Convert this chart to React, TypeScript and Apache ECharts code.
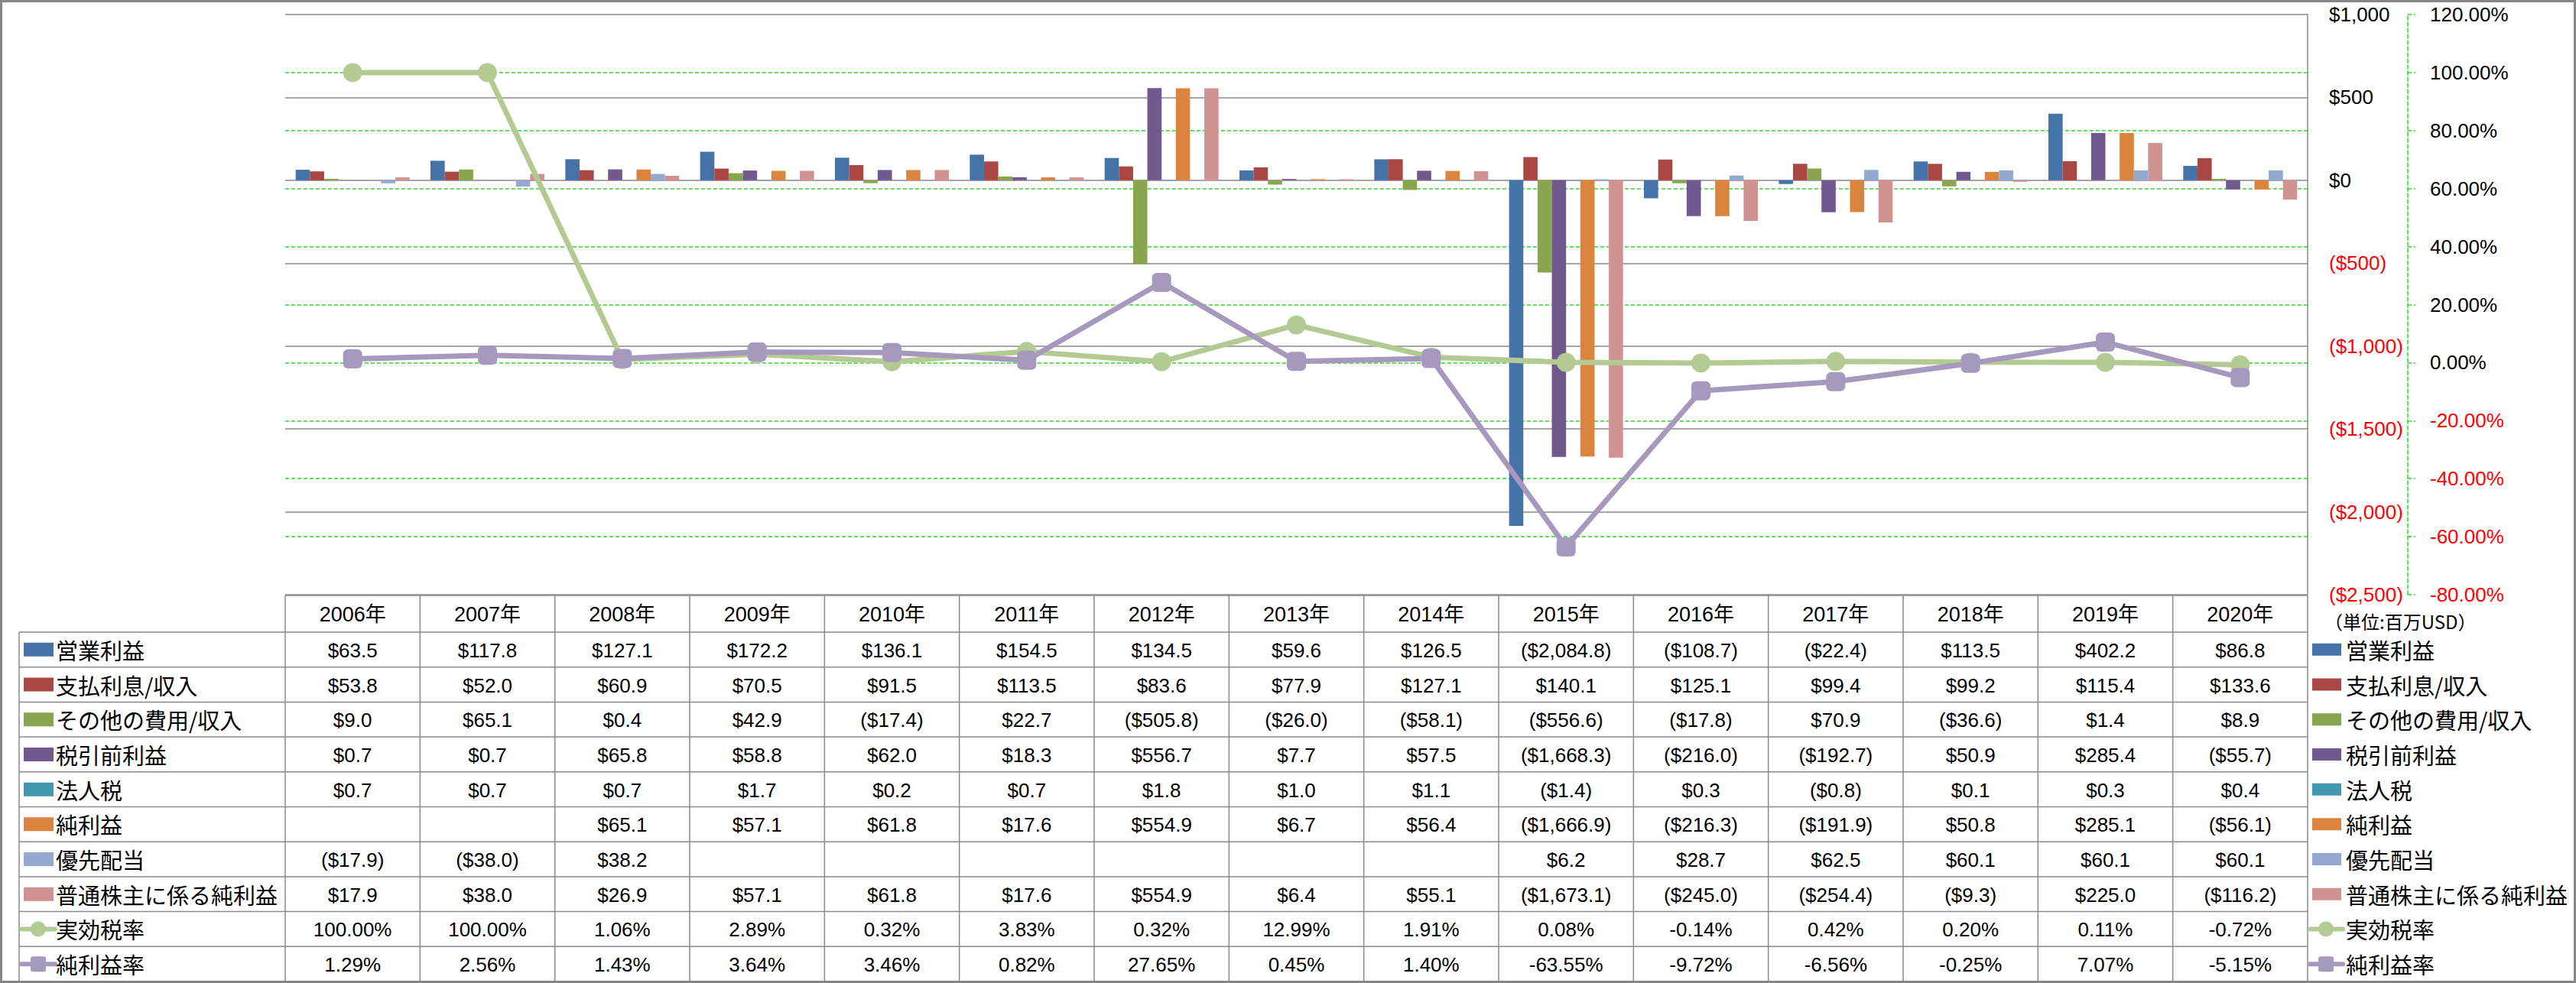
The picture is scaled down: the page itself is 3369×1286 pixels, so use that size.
import React, { useEffect, useRef } from "react";
import * as echarts from "echarts";

const years = ["2006年","2007年","2008年","2009年","2010年","2011年","2012年","2013年","2014年","2015年","2016年","2017年","2018年","2019年","2020年"];

const opIncome = [63.5,117.8,127.1,172.2,136.1,154.5,134.5,59.6,126.5,-2084.8,-108.7,-22.4,113.5,402.2,86.8];
const interest = [53.8,52.0,60.9,70.5,91.5,113.5,83.6,77.9,127.1,140.1,125.1,99.4,99.2,115.4,133.6];
const otherExp = [9.0,65.1,0.4,42.9,-17.4,22.7,-505.8,-26.0,-58.1,-556.6,-17.8,70.9,-36.6,1.4,8.9];
const preTax = [0.7,0.7,65.8,58.8,62.0,18.3,556.7,7.7,57.5,-1668.3,-216.0,-192.7,50.9,285.4,-55.7];
const corpTax = [0.7,0.7,0.7,1.7,0.2,0.7,1.8,1.0,1.1,-1.4,0.3,-0.8,0.1,0.3,0.4];
const netIncome = [null,null,65.1,57.1,61.8,17.6,554.9,6.7,56.4,-1666.9,-216.3,-191.9,50.8,285.1,-56.1];
const prefDiv = [-17.9,-38.0,38.2,null,null,null,null,null,null,6.2,28.7,62.5,60.1,60.1,60.1];
const commonNet = [17.9,38.0,26.9,57.1,61.8,17.6,554.9,6.4,55.1,-1673.1,-245.0,-254.4,-9.3,225.0,-116.2];
const taxRate = [100.00,100.00,1.06,2.89,0.32,3.83,0.32,12.99,1.91,0.08,-0.14,0.42,0.20,0.11,-0.72];
const netMargin = [1.29,2.56,1.43,3.64,3.46,0.82,27.65,0.45,1.40,-63.55,-9.72,-6.56,-0.25,7.07,-5.15];

const barNames = ["営業利益","支払利息/収入","その他の費用/収入","税引前利益","法人税","純利益","優先配当","普通株主に係る純利益"];
const barData = [opIncome, interest, otherExp, preTax, corpTax, netIncome, prefDiv, commonNet];
const barColors = ["#4572A7","#AA4643","#89A54E","#71588F","#4198AF","#DB843D","#93A9CF","#D19392"];
const lineNames = ["実効税率","純利益率"];
const lineData = [taxRate, netMargin];
const lineColors = ["#B3CB93","#A699BD"];

const moneyTicks = { min: -2500, max: 1000, interval: 500 };
const pctTicks = { min: -80, max: 120, interval: 20 };
const unitLabel = "（単位:百万USD）";

const W = 3369, H = 1286;
const GL = 373, GR = 3018, GT = 19, GB = 778;
const COLW = (GR - GL) / 15;
const HDR_B = 827;
const TBL_B = 1284;
const ROW_H = (TBL_B - HDR_B) / 10;
const NUM_FONT = "'Liberation Sans', 'Noto Sans CJK JP', sans-serif";
const JP_FONT = "'Noto Sans CJK JP', sans-serif";
const LINE_C = "#8a8a8a";
const GREEN_DASH = "#19e619";

function fmtMoney(v: number | null): string {
  if (v === null || v === undefined) return "";
  const s = Math.abs(v).toLocaleString("en-US", { minimumFractionDigits: 1, maximumFractionDigits: 1 });
  return v < 0 ? `($${s})` : `$${s}`;
}
function fmtPct(v: number): string {
  return v.toFixed(2) + "%";
}

function txt(x: number, y: number, text: string, size: number, family: string, align = "center", fill = "#000") {
  return {
    type: "text",
    x, y,
    silent: true,
    z: 50,
    style: {
      text, fill, fontSize: size, fontFamily: family,
      align, textAlign: align, verticalAlign: "middle", textVerticalAlign: "middle",
    },
  };
}
function ln(x1: number, y1: number, x2: number, y2: number, color = LINE_C, w = 1.5) {
  return { type: "line", silent: true, z: 40, shape: { x1, y1, x2, y2 }, style: { stroke: color, lineWidth: w } };
}

function buildGraphic() {
  const g: any[] = [];
  g.push(ln(GL, GB + 1, GR, GB + 1));
  for (let r = 0; r <= 10; r++) {
    const y = HDR_B + r * ROW_H;
    g.push(ln(25, y, GR, y));
  }
  g.push(ln(25, HDR_B, 25, TBL_B));
  for (let c = 0; c <= 15; c++) {
    const x = GL + c * COLW;
    g.push(ln(x, GB + 1, x, TBL_B));
  }
  years.forEach((yv, i) => g.push(txt(GL + (i + 0.5) * COLW, (GB + HDR_B) / 2 + 1, yv, 27, NUM_FONT)));
  barNames.forEach((name, r) => {
    const cy = HDR_B + (r + 0.5) * ROW_H;
    g.push({ type: "rect", silent: true, z: 50, shape: { x: 31, y: cy - 9, width: 39, height: 18 }, style: { fill: barColors[r] } });
    g.push(txt(73, cy, name, 29, JP_FONT, "left"));
    g.push({ type: "rect", silent: true, z: 50, shape: { x: 3024, y: cy - 8, width: 38, height: 16 }, style: { fill: barColors[r] } });
    g.push(txt(3068, cy, name, 29, JP_FONT, "left"));
    barData[r].forEach((v, i) => g.push(txt(GL + (i + 0.5) * COLW, cy + 1, fmtMoney(v), 26, NUM_FONT)));
  });
  lineNames.forEach((name, k) => {
    const r = 8 + k;
    const cy = HDR_B + (r + 0.5) * ROW_H;
    const col = lineColors[k];
    [[28, 72, 50, 73], [3021, 3064, 3042, 3068]].forEach(([x1, x2, cx, tx]) => {
      g.push({ type: "line", silent: true, z: 50, shape: { x1, y1: cy, x2, y2: cy }, style: { stroke: col, lineWidth: 6, lineCap: "round" } });
      if (k === 0) {
        g.push({ type: "circle", silent: true, z: 51, shape: { cx, cy, r: 10 }, style: { fill: col } });
      } else {
        g.push({ type: "rect", silent: true, z: 51, shape: { x: cx - 10, y: cy - 10, width: 20, height: 20, r: 3 }, style: { fill: col } });
      }
      g.push(txt(tx, cy, name, 29, JP_FONT, "left"));
    });
    lineData[k].forEach((v, i) => g.push(txt(GL + (i + 0.5) * COLW, cy + 1, fmtPct(v), 26, NUM_FONT)));
  });
  g.push(txt(3040, 812, unitLabel, 24, JP_FONT, "left"));
  g.push({ type: "rect", silent: true, z: 60, shape: { x: 1.5, y: 1.5, width: W - 3, height: H - 3 }, style: { fill: "none", stroke: "#868686", lineWidth: 3 } });
  return g;
}

export default function App() {
  const ref = useRef<HTMLDivElement>(null);
  useEffect(() => {
    document.body.style.margin = "0";
    if (!ref.current) return;
    const chart = echarts.init(ref.current, null, { renderer: "svg" });
    const series: any[] = [];
    barNames.forEach((name, i) => {
      series.push({
        name, type: "bar", data: barData[i], yAxisIndex: 0,
        barGap: 0, barCategoryGap: "15.5%",
        itemStyle: { color: barColors[i] },
      });
    });
    lineNames.forEach((name, i) => {
      series.push({
        name, type: "line", data: lineData[i], yAxisIndex: 1, z: 5,
        symbol: i === 0 ? "circle" : "roundRect", symbolSize: 25,
        lineStyle: { color: lineColors[i], width: 7 },
        itemStyle: { color: lineColors[i] },
      });
    });
    chart.setOption({
      animation: false,
      backgroundColor: "#ffffff",
      grid: { left: GL, top: GT, width: GR - GL, height: GB - GT },
      xAxis: {
        type: "category", data: years,
        axisLine: { show: false }, axisTick: { show: false }, axisLabel: { show: false }, splitLine: { show: false },
      },
      yAxis: [
        {
          type: "value", position: "right", ...moneyTicks,
          axisLine: { show: true, lineStyle: { color: LINE_C, width: 1.5 } },
          axisTick: { show: false },
          splitLine: { show: true, lineStyle: { color: LINE_C, width: 1.5 } },
          axisLabel: {
            margin: 28, align: "left", fontSize: 26, fontFamily: "'Liberation Sans', sans-serif",
            color: (v: any) => (Number(v) < 0 ? "#ff0000" : "#000000"),
            formatter: (v: number) => (v < 0 ? `($${Math.abs(v).toLocaleString("en-US")})` : `$${v.toLocaleString("en-US")}`),
          },
        },
        {
          type: "value", position: "right", offset: 131, ...pctTicks,
          axisLine: { show: true, lineStyle: { color: GREEN_DASH, width: 1.5, type: [5, 3] } },
          axisTick: { show: true, inside: false, length: 10, lineStyle: { color: GREEN_DASH, width: 1.5, type: [5, 3] } },
          splitLine: { show: true, showMinLine: false, showMaxLine: false, lineStyle: { color: GREEN_DASH, width: 1.5, type: [5, 3] } },
          axisLabel: {
            margin: 29, align: "left", fontSize: 26, fontFamily: "'Liberation Sans', sans-serif",
            color: (v: any) => (Number(v) < 0 ? "#ff0000" : "#000000"),
            formatter: (v: number) => fmtPct(v),
          },
        },
      ],
      series,
      graphic: buildGraphic(),
    });
    return () => chart.dispose();
  }, []);
  return <div ref={ref} style={{ width: W, height: H }} />;
}
